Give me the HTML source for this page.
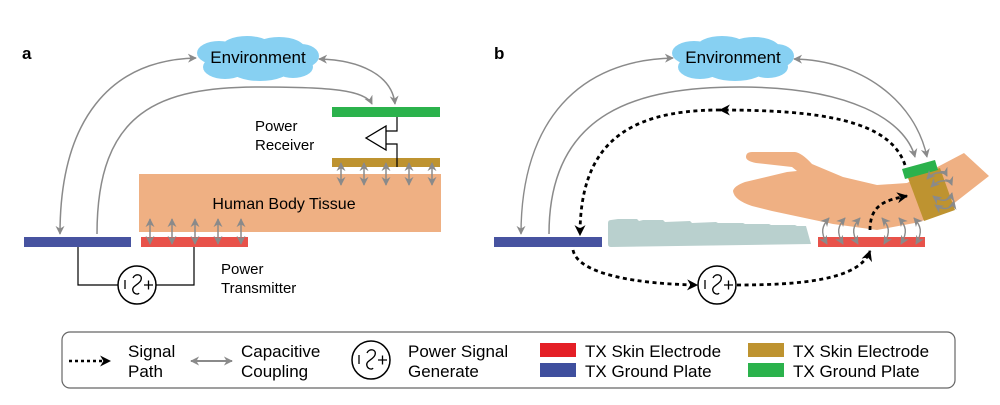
<!DOCTYPE html>
<html><head><meta charset="utf-8"><style>
html,body{margin:0;padding:0;background:#fff;}
svg{display:block;font-family:"Liberation Sans",Arial,sans-serif;}
</style></head><body>
<svg width="1000" height="405" viewBox="0 0 1000 405" xmlns="http://www.w3.org/2000/svg">
<defs>
<marker id="ga" viewBox="0 0 10 10" refX="9" refY="5" markerWidth="9" markerHeight="9" orient="auto-start-reverse" markerUnits="userSpaceOnUse"><path d="M0,0 L10,5 L0,10 L3,5 z" fill="#8a8a8a"/></marker>
<marker id="ba" viewBox="0 0 10 10" refX="9" refY="5" markerWidth="11" markerHeight="11" orient="auto" markerUnits="userSpaceOnUse"><path d="M0,0 L10,5 L0,10 L3,5 z" fill="#000"/></marker>
<g id="cloud">
<ellipse cx="0" cy="0" rx="54" ry="14" fill="#87d0f2"/>
<ellipse cx="-38" cy="-5" rx="22" ry="12" fill="#87d0f2"/>
<ellipse cx="-10" cy="-10" rx="26" ry="12" fill="#87d0f2"/>
<ellipse cx="22" cy="-9" rx="26" ry="12" fill="#87d0f2"/>
<ellipse cx="44" cy="-2" rx="18" ry="12" fill="#87d0f2"/>
<ellipse cx="-32" cy="9" rx="22" ry="12" fill="#87d0f2"/>
<ellipse cx="3" cy="11" rx="30" ry="12" fill="#87d0f2"/>
<ellipse cx="36" cy="9" rx="20" ry="11" fill="#87d0f2"/>
</g>
<g id="src">
<circle cx="0" cy="0" r="19" fill="#fff" stroke="#000" stroke-width="1.5"/>
<line x1="-12" y1="-5" x2="-12" y2="4" stroke="#000" stroke-width="1.3"/>
<path d="M-4,-7 C-2,-12 6,-11 4,-5 C2,0 -6,1 -4,6 C-3,9 1,10 2,8" fill="none" stroke="#000" stroke-width="1.3"/>
<path d="M7,0 h9 M11.5,-4.5 v9" stroke="#000" stroke-width="1.3"/>
</g>
</defs>

<!-- Panel a -->
<text x="22" y="59" font-size="17" font-weight="bold">a</text>
<use href="#cloud" x="257" y="58"/>
<text x="258" y="63" font-size="17" text-anchor="middle">Environment</text>

<rect x="139" y="174" width="302" height="58" fill="#efb083"/>
<text x="284" y="209" font-size="16" text-anchor="middle">Human Body Tissue</text>

<rect x="332" y="107" width="108" height="10" fill="#2bb24c"/>
<rect x="332" y="158" width="108" height="9" fill="#be9330"/>
<path d="M397,117 V131 H386 M397,167 V144 H386" fill="none" stroke="#000" stroke-width="1.2"/>
<path d="M386,126 V150 L366,138 Z" fill="#fff" stroke="#000" stroke-width="1.3"/>
<text x="255" y="131" font-size="15">Power</text>
<text x="255" y="150" font-size="15">Receiver</text>

<rect x="24" y="237" width="107" height="10" fill="#4753a0"/>
<rect x="141" y="237" width="107" height="10" fill="#e8524a"/>
<path d="M78,247 V285 H118 M156,285 H194 V247" fill="none" stroke="#000" stroke-width="1.2"/>
<use href="#src" x="137" y="285"/>
<text x="221" y="274" font-size="15">Power</text>
<text x="221" y="293" font-size="15">Transmitter</text>

<g stroke="#8a8a8a" stroke-width="1.5" fill="none" marker-start="url(#ga)" marker-end="url(#ga)">
<line x1="341" y1="163" x2="341" y2="185"/><line x1="364" y1="163" x2="364" y2="185"/><line x1="386" y1="163" x2="386" y2="185"/><line x1="409" y1="163" x2="409" y2="185"/><line x1="432" y1="163" x2="432" y2="185"/>
<line x1="150" y1="219" x2="150" y2="244"/><line x1="172" y1="219" x2="172" y2="244"/><line x1="195" y1="219" x2="195" y2="244"/><line x1="218" y1="219" x2="218" y2="244"/><line x1="241" y1="219" x2="241" y2="244"/>
<path d="M60,234 C60,120 110,60 196,58"/>
<path d="M319,59 C360,60 392,75 395,104"/>
</g>
<path d="M97,234 C97,110 160,87 260,87 C330,87 365,90 372,104" fill="none" stroke="#8a8a8a" stroke-width="1.5" marker-end="url(#ga)"/>

<!-- Panel b -->
<text x="494" y="59" font-size="17" font-weight="bold">b</text>
<use href="#cloud" x="732" y="58"/>
<text x="733" y="63" font-size="17" text-anchor="middle">Environment</text>

<rect x="494" y="237" width="108" height="10" fill="#4753a0"/>
<path d="M611,220 L618,219 L637,219 L639,221 L643,220 L663,220 L665,222 L690,221 L692,223 L716,222 L718,223 L743,223 L745,224 L769,224 L771,225 L795,225 L797,226 L806,226 L811,244 L611,247 Q608,247 608,244 L608,223 Q608,220 611,220 Z" fill="#b9d0ce"/>
<rect x="818" y="237" width="107" height="10" fill="#e8524a"/>

<path d="M752,152 L795,152 Q802,153 812,164 L843,177 L877,185 L907,183 L964,153 L989,176 L948,208 L920,222 L877,230 L833,224 L772,211 L752,206 Q734,200 733,191 Q734,186 745,182 L787,172 L797,171 L792,167 L756,163 Q746,161 746,157 Q746,152 752,152 Z" fill="#efb083"/>
<path d="M908,178 L940,168 L955,210 L924,221 Z" fill="#be9330"/>
<path d="M902,169 L935,160 L938,170 L905,179 Z" fill="#2bb24c"/>

<g stroke="#8a8a8a" stroke-width="1.4" fill="none" marker-start="url(#ga)" marker-end="url(#ga)">
<path d="M827,244 C820,232 822,226 829,218"/><path d="M843,244 C836,232 838,226 845,218"/><path d="M858,244 C851,232 853,226 860,218"/>
<path d="M884,244 C891,232 889,226 882,218"/><path d="M901,244 C908,232 906,226 899,218"/><path d="M916,244 C923,232 921,226 914,218"/>
<path d="M927,179 C935,170 945,172 947,176"/><path d="M931,187 C940,178 950,180 952,185"/><path d="M933,196 C942,203 950,201 952,193"/><path d="M935,205 C944,211 952,209 954,201"/>
<path d="M521,234 C521,120 580,60 673,58"/>
<path d="M794,59 C860,60 915,100 927,157"/>
</g>
<path d="M549,234 C549,110 640,87 740,87 C850,87 905,120 915,157" fill="none" stroke="#8a8a8a" stroke-width="1.5" marker-end="url(#ga)"/>

<g stroke="#000" stroke-width="2.8" stroke-dasharray="4,3.5" fill="none">
<path d="M905,165 C890,120 820,110 720,110" marker-end="url(#ba)"/>
<path d="M720,110 C620,110 580,150 580,235" marker-end="url(#ba)"/>
<path d="M573,250 C578,275 640,284 697,285" marker-end="url(#ba)"/>
<path d="M737,285 C800,285 860,280 870,251" marker-end="url(#ba)"/>
<path d="M870,230 C870,205 885,200 907,196" marker-end="url(#ba)"/>
</g>
<use href="#src" x="717" y="285"/>

<!-- Legend -->
<rect x="62" y="332" width="893" height="56" rx="8" fill="#fff" stroke="#666" stroke-width="1.2"/>
<line x1="69" y1="361" x2="110" y2="361" stroke="#000" stroke-width="2.5" stroke-dasharray="3,3" marker-end="url(#ba)"/>
<text x="128" y="357" font-size="17">Signal</text>
<text x="128" y="377" font-size="17">Path</text>
<line x1="191" y1="361" x2="232" y2="361" stroke="#8a8a8a" stroke-width="2" marker-start="url(#ga)" marker-end="url(#ga)"/>
<text x="241" y="357" font-size="17">Capacitive</text>
<text x="241" y="377" font-size="17">Coupling</text>
<use href="#src" x="371" y="360"/>
<text x="408" y="357" font-size="17">Power Signal</text>
<text x="408" y="377" font-size="17">Generate</text>
<rect x="540" y="343" width="36" height="14" fill="#e41f26"/>
<rect x="540" y="363" width="36" height="14" fill="#3f4f9e"/>
<text x="585" y="357" font-size="17">TX Skin Electrode</text>
<text x="585" y="377" font-size="17">TX Ground Plate</text>
<rect x="748" y="343" width="36" height="14" fill="#be9330"/>
<rect x="748" y="363" width="36" height="14" fill="#2bb24c"/>
<text x="793" y="357" font-size="17">TX Skin Electrode</text>
<text x="793" y="377" font-size="17">TX Ground Plate</text>
</svg>
</body></html>
